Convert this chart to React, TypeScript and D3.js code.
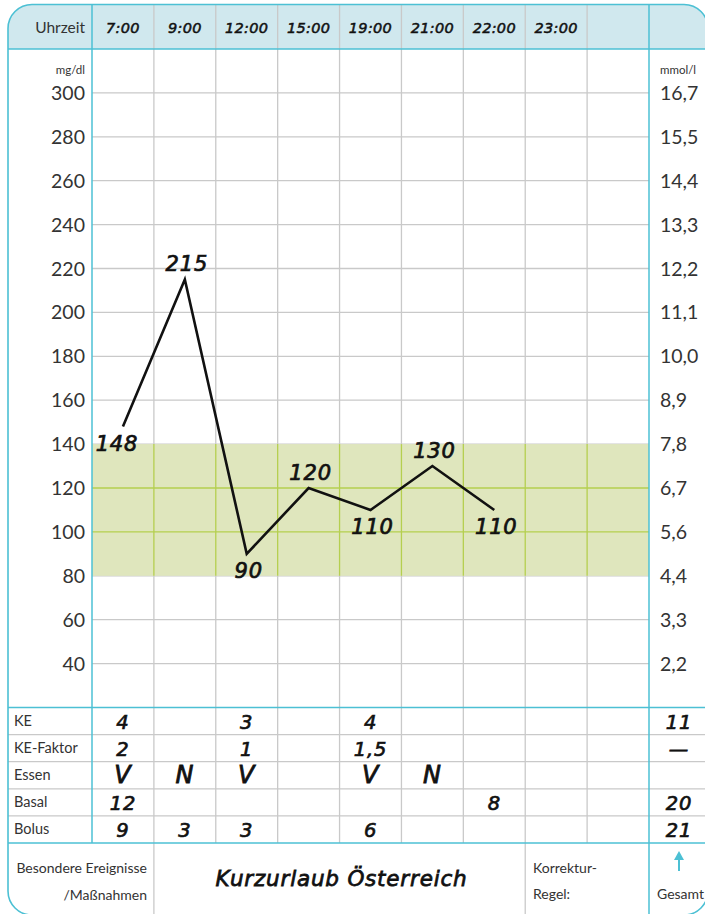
import React from "react";
import * as d3 from "d3";

// --- data ---
const times = ["7:00", "9:00", "12:00", "15:00", "19:00", "21:00", "22:00", "23:00", ""];
const glucoseTimes = ["7:00", "9:00", "12:00", "15:00", "19:00", "21:00", "22:00"];
const glucoseValues = [148, 215, 90, 120, 110, 130, 110];
const mgTicks = [300, 280, 260, 240, 220, 200, 180, 160, 140, 120, 100, 80, 60, 40];
const mmolTicks = ["16,7", "15,5", "14,4", "13,3", "12,2", "11,1", "10,0", "8,9", "7,8", "6,7", "5,6", "4,4", "3,3", "2,2"];
const targetRange = [80, 140];

const rowLabels = ["KE", "KE-Faktor", "Essen", "Basal", "Bolus"];
const keValues = ["4", "", "3", "", "4", "", "", "", ""];
const keFaktorValues = ["2", "", "1", "", "1,5", "", "", "", ""];
const essenValues = ["V", "N", "V", "", "V", "N", "", "", ""];
const basalValues = ["12", "", "", "", "", "", "8", "", ""];
const bolusValues = ["9", "3", "3", "", "6", "", "", "", ""];
const rowTotals = ["11", "—", "", "20", "21"];
const note = "Kurzurlaub Österreich";

const W = 705;
const H = 914;
const CYAN = "#4cc0d4";
const GRID = "#c9c9c9";
const GREEN_LINE = "#b5cf4f";
const BAND = "#dfe6bd";
const HEAD = "#d0e8ee";
const TXT = "#333";
const SANS = "Lato, 'Noto Sans', sans-serif";
const HAND = "'DejaVu Sans', sans-serif";

const frame = { x: 8, y: 4.5, w: 700, h: 910.5, r: 24 };
const headerBottom = 49;
const plotLeft = 92;
const plotRight = 649;
const plotBottom = 707.5;
const tableBottom = 843;

// handwritten look: oblique glyphs thickened with a stroke
const hand = (size: number) => ({
  fontFamily: HAND,
  fontStyle: "italic",
  fontSize: size,
  fill: "#111",
  stroke: "#111",
  strokeWidth: size * 0.035,
  letterSpacing: 0.8,
});

export default function App() {
  const x = d3.scaleBand<string>().domain(times.map((t, i) => String(i))).range([plotLeft, plotRight]);
  const colX = (i: number) => (x(String(i)) as number);
  const bw = x.bandwidth();
  const y = d3.scaleLinear().domain([20, 320]).range([plotBottom, headerBottom]);
  const rowY = d3.scaleBand<string>().domain(rowLabels).range([plotBottom, tableBottom]);
  const rh = rowY.bandwidth();

  const pts = glucoseValues.map((v, i) => {
    const idx = times.indexOf(glucoseTimes[i]);
    return { x: colX(idx) + bw / 2, y: y(v), v, i };
  });
  const line = d3.line<{ x: number; y: number }>().x((d) => d.x).y((d) => d.y);

  const tableRows = [keValues, keFaktorValues, essenValues, basalValues, bolusValues];

  const clipPath = `M${frame.x + frame.r},${frame.y} H${frame.x + frame.w - frame.r} A${frame.r},${frame.r} 0 0 1 ${frame.x + frame.w},${frame.y + frame.r} V${frame.y + frame.h - frame.r} A${frame.r},${frame.r} 0 0 1 ${frame.x + frame.w - frame.r},${frame.y + frame.h} H${frame.x + frame.r} A${frame.r},${frame.r} 0 0 1 ${frame.x},${frame.y + frame.h - frame.r} V${frame.y + frame.r} A${frame.r},${frame.r} 0 0 1 ${frame.x + frame.r},${frame.y} Z`;

  const isPeak = (i: number) => {
    const prev = i > 0 ? glucoseValues[i - 1] : -Infinity;
    const next = i < glucoseValues.length - 1 ? glucoseValues[i + 1] : -Infinity;
    return glucoseValues[i] > prev && glucoseValues[i] > next;
  };

  return (
    <svg width={W} height={H} style={{ position: "absolute", left: 0, top: 0, background: "#fff" }}>
      <defs>
        <clipPath id="frameClip">
          <path d={clipPath} />
        </clipPath>
      </defs>
      <g clipPath="url(#frameClip)">
        {/* header */}
        <rect x={0} y={0} width={W} height={headerBottom} fill={HEAD} />
        <text x={85} y={33} textAnchor="end" fontFamily={SANS} fontSize={15.5} fill={TXT}>Uhrzeit</text>
        {times.map((t, i) => (
          <text key={"t" + i} x={colX(i) + bw / 2} y={33} textAnchor="middle" {...hand(14.5)} letterSpacing={0.3}>
            {t}
          </text>
        ))}

        {/* grey grid */}
        {mgTicks.map((v) => (
          <line key={"h" + v} x1={plotLeft} x2={plotRight} y1={y(v)} y2={y(v)} stroke={GRID} strokeWidth={1.3} />
        ))}
        {times.map((t, i) => i > 0 && (
          <line key={"v" + i} x1={colX(i)} x2={colX(i)} y1={frame.y} y2={tableBottom} stroke={GRID} strokeWidth={1.3} />
        ))}

        {/* target band */}
        <rect x={plotLeft} width={plotRight - plotLeft} y={y(targetRange[1])} height={y(targetRange[0]) - y(targetRange[1])} fill={BAND} />
        {mgTicks.filter((v) => v > targetRange[0] && v < targetRange[1]).map((v) => (
          <line key={"gh" + v} x1={plotLeft} x2={plotRight} y1={y(v)} y2={y(v)} stroke={GREEN_LINE} strokeWidth={1.3} />
        ))}
        {times.map((t, i) => i > 0 && (
          <line key={"gv" + i} x1={colX(i)} x2={colX(i)} y1={y(targetRange[1])} y2={y(targetRange[0])} stroke={GREEN_LINE} strokeWidth={1.3} />
        ))}

        {/* axes labels */}
        <text x={85} y={74} textAnchor="end" fontFamily={SANS} fontSize={11.5} fill={TXT}>mg/dl</text>
        {mgTicks.map((v) => (
          <text key={"l" + v} x={85} y={y(v) + 7} textAnchor="end" fontFamily={SANS} fontSize={19.5} fill={TXT}>{v}</text>
        ))}
        <text x={660} y={74} fontFamily={SANS} fontSize={11.5} fill={TXT}>mmol/l</text>
        {mmolTicks.map((m, i) => (
          <text key={"r" + i} x={660} y={y(mgTicks[i]) + 7} fontFamily={SANS} fontSize={19.5} fill={TXT}>{m}</text>
        ))}

        {/* glucose curve */}
        <path d={line(pts) as string} fill="none" stroke="#111" strokeWidth={2.6} strokeLinejoin="miter" />
        {pts.map((p) => (
          <text key={"p" + p.i} x={p.x + (p.i === 0 ? -6 : 2)} y={isPeak(p.i) ? p.y - 8 : p.y + 24}
            textAnchor="middle" {...hand(21)}>
            {p.v}
          </text>
        ))}

        {/* table rows */}
        {rowLabels.map((r, ri) => (
          <g key={"row" + r}>
            {ri > 0 && <line x1={frame.x} x2={W} y1={rowY(r)} y2={rowY(r)} stroke={GRID} strokeWidth={1.3} />}
            <text x={14} y={(rowY(r) as number) + rh / 2 + 5} fontFamily={SANS} fontSize={14.5} fill={TXT}>{r}</text>
            {tableRows[ri].map((v, ci) => v && (
              <text key={ci} x={colX(ci) + bw / 2} y={(rowY(r) as number) + rh / 2 + 8} textAnchor="middle"
                {...hand(r === "Essen" ? 24 : 19.5)}>
                {v}
              </text>
            ))}
            {rowTotals[ri] && (
              <text x={679} y={(rowY(r) as number) + rh / 2 + 8} textAnchor="middle" {...hand(19.5)}>{rowTotals[ri]}</text>
            )}
          </g>
        ))}

        {/* bottom section */}
        <rect x={plotLeft - 1} y={tableBottom + 1} width={plotRight - plotLeft + 2} height={H - tableBottom} fill="#fff" />
        <line x1={colX(1)} x2={colX(1)} y1={tableBottom} y2={H} stroke={GRID} strokeWidth={1.3} />
        <line x1={colX(7)} x2={colX(7)} y1={tableBottom} y2={H} stroke={GRID} strokeWidth={1.3} />
        <text x={147} y={873} textAnchor="end" fontFamily={SANS} fontSize={14} fill={TXT}>Besondere Ereignisse</text>
        <text x={147} y={900} textAnchor="end" fontFamily={SANS} fontSize={14} fill={TXT}>/Maßnahmen</text>
        <text x={(colX(1) + colX(7)) / 2 + 2} y={886} textAnchor="middle" {...hand(21.5)}>{note}</text>
        <text x={533} y={873} fontFamily={SANS} fontSize={14} fill={TXT}>Korrektur-</text>
        <text x={533} y={899} fontFamily={SANS} fontSize={14} fill={TXT}>Regel:</text>
        <text x={657} y={899} fontFamily={SANS} fontSize={14} fill={TXT}>Gesamt</text>
        <line x1={679} x2={679} y1={858} y2={871} stroke={CYAN} strokeWidth={2} />
        <path d="M674,860 L679,851 L684,860 Z" fill={CYAN} />

        {/* cyan structure lines */}
        <line x1={frame.x} x2={W} y1={headerBottom} y2={headerBottom} stroke={CYAN} strokeWidth={1.5} />
        <line x1={frame.x} x2={W} y1={plotBottom} y2={plotBottom} stroke={CYAN} strokeWidth={1.5} />
        <line x1={frame.x} x2={W} y1={tableBottom} y2={tableBottom} stroke={CYAN} strokeWidth={1.5} />
        <line x1={plotLeft} x2={plotLeft} y1={frame.y} y2={tableBottom} stroke={CYAN} strokeWidth={1.5} />
        <line x1={plotRight} x2={plotRight} y1={frame.y} y2={H} stroke={CYAN} strokeWidth={1.5} />
      </g>
      <path d={clipPath} fill="none" stroke={CYAN} strokeWidth={1.6} />
    </svg>
  );
}
